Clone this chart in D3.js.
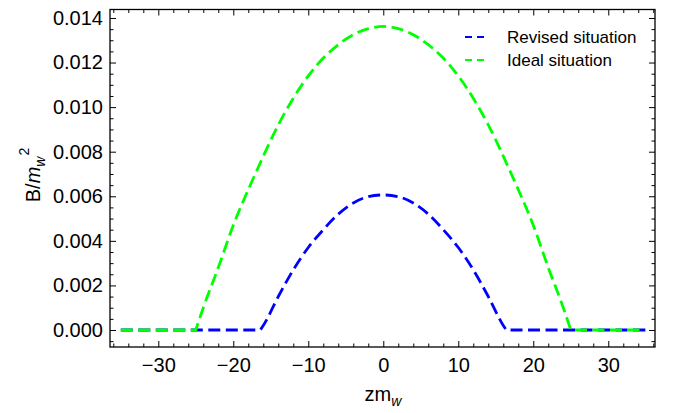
<!DOCTYPE html>
<html><head><meta charset="utf-8">
<script src="https://cdn.jsdelivr.net/npm/d3@7"></script>
<style>
body{margin:0;background:#fff}
svg{display:block}
text{font-family:"Liberation Sans",Arial,Helvetica,sans-serif;fill:#000}
</style>
</head><body>
<svg id="c" width="676" height="413"></svg>
<script>
// ---- data ----
const zValues = [-35,-30,-25,-24,-22,-20,-18,-16.4,-16,-14,-12,-10,-8,-6,-4,-2,0,2,4,6,8,10,12,14,16,16.4,18,20,22,24,25,30,35];
const revisedValues = [0,0,0,0,0,0,0,0,0.0002,0.0015,0.0027,0.0037,0.0045,0.0052,0.0057,0.00598,0.00606,0.00598,0.0057,0.0052,0.0045,0.0037,0.0027,0.0015,0.0002,0,0,0,0,0,0,0,0];
const idealValues = [0,0,0,0.0010,0.0028,0.0047,0.0063,0.0075,0.0078,0.0092,0.0104,0.0114,0.0122,0.0128,0.01325,0.01352,0.01362,0.01352,0.01325,0.0128,0.0122,0.0114,0.0104,0.0092,0.0078,0.0075,0.0063,0.0047,0.0028,0.0010,0,0,0];
const seriesNames = ["Revised situation","Ideal situation"];
const seriesColors = ["#0000ff","#00ff00"];
const xTickValues = [-30,-20,-10,0,10,20,30];
const yTickValues = [0,0.002,0.004,0.006,0.008,0.010,0.012,0.014];

// ---- layout ----
const L = 110, R = 655, T = 9.5, B = 347;
const svg = d3.select("#c");
const x = d3.scaleLinear().domain([-36.44, 36.23]).range([L, R]);
const y = d3.scaleLinear().domain([-0.000763, 0.01438]).range([B, T]);

const xMinor = d3.range(-36, 37, 2).filter(v => v % 10 !== 0);
const yMinor = d3.range(-0.0005, 0.01445, 0.0005).filter(v => Math.abs(Math.round(v/0.002)*0.002 - v) > 1e-7);

function styleAxis(g){
  g.select(".domain").remove();
  g.selectAll(".tick line").attr("stroke","#000").attr("stroke-width",1);
  g.selectAll("text").attr("font-size",20);
}
// bottom
svg.append("g").attr("transform",`translate(0,${B})`)
  .call(d3.axisBottom(x).tickValues(xTickValues).tickSize(-6).tickPadding(11).tickFormat(d3.format("d"))).call(styleAxis);
svg.append("g").attr("transform",`translate(0,${B})`)
  .call(d3.axisBottom(x).tickValues(xMinor).tickSize(-3.5).tickFormat("")).call(styleAxis);
// top
svg.append("g").attr("transform",`translate(0,${T})`)
  .call(d3.axisTop(x).tickValues(xTickValues).tickSize(-6).tickFormat("")).call(styleAxis);
svg.append("g").attr("transform",`translate(0,${T})`)
  .call(d3.axisTop(x).tickValues(xMinor).tickSize(-3.5).tickFormat("")).call(styleAxis);
// left
svg.append("g").attr("transform",`translate(${L},0)`)
  .call(d3.axisLeft(y).tickValues(yTickValues).tickSize(-6).tickPadding(7).tickFormat(d3.format(".3f"))).call(styleAxis);
svg.append("g").attr("transform",`translate(${L},0)`)
  .call(d3.axisLeft(y).tickValues(yMinor).tickSize(-3.5).tickFormat("")).call(styleAxis);
// right
svg.append("g").attr("transform",`translate(${R},0)`)
  .call(d3.axisRight(y).tickValues(yTickValues).tickSize(-6).tickFormat("")).call(styleAxis);
svg.append("g").attr("transform",`translate(${R},0)`)
  .call(d3.axisRight(y).tickValues(yMinor).tickSize(-3.5).tickFormat("")).call(styleAxis);

// frame
svg.append("rect").attr("x",L).attr("y",T).attr("width",R-L).attr("height",B-T)
  .attr("fill","none").attr("stroke","#000").attr("stroke-width",1.3);

// ---- curves ----
const lin = d3.line().x(d=>x(d[0])).y(d=>y(d[1]));
const mono = d3.line().curve(d3.curveMonotoneX).x(d=>x(d[0])).y(d=>y(d[1]));
function buildPath(vals){
  const pts = zValues.map((z,i)=>[z, vals[i]]);
  const first = pts.findIndex(p=>p[1]>0) - 1;
  let lastPos = -1; pts.forEach((p,i)=>{ if(p[1]>0) lastPos = i; });
  const last = lastPos + 1;
  const left = pts.slice(0, first+1), arch = pts.slice(first, last+1), right = pts.slice(last);
  return lin(left) + mono(arch).replace(/^M/,"L") + lin(right).replace(/^M/,"L");
}
[revisedValues, idealValues].forEach((vals,i)=>{
  svg.append("path").attr("d", buildPath(vals)).attr("fill","none")
    .attr("stroke", seriesColors[i]).attr("stroke-width",2.8)
    .attr("stroke-dasharray","12,5.5");
});

// ---- legend ----
seriesNames.forEach((name,i)=>{
  const ly = 37 + i*23;
  svg.append("line").attr("x1",465).attr("x2",484).attr("y1",ly).attr("y2",ly)
    .attr("stroke",seriesColors[i]).attr("stroke-width",2.2).attr("stroke-dasharray","7,5");
  svg.append("text").attr("x",507).attr("y",ly).attr("dy","0.35em").attr("font-size",17).text(name);
});

// ---- axis titles ----
const xt = svg.append("text").attr("x",383).attr("y",401).attr("text-anchor","middle").attr("font-size",20);
xt.append("tspan").text("zm");
xt.append("tspan").attr("font-style","italic").attr("font-size",14).attr("dy",5).text("w");

const yt = svg.append("text").attr("transform","translate(40,175) rotate(-90)").attr("text-anchor","middle").attr("font-size",20);
yt.append("tspan").text("B/");
yt.append("tspan").attr("font-style","italic").text("m");
yt.append("tspan").attr("font-style","italic").attr("font-size",14).attr("dy",5).text("w");
yt.append("tspan").attr("font-size",14).attr("dy",-16).attr("dx",1).text("2");
</script>
</body></html>
